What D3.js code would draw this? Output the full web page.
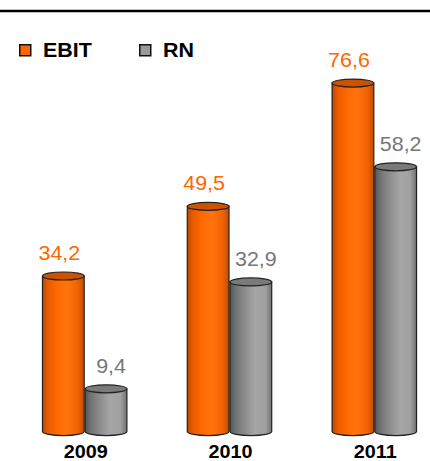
<!DOCTYPE html>
<html><head><meta charset="utf-8">
<script src="https://cdn.jsdelivr.net/npm/d3@7"></script>
<style>html,body{margin:0;padding:0;background:#fff;}svg{display:block;}</style>
</head><body>
<svg id="c" width="430" height="461"></svg>
<script>
const years = ["2009", "2010", "2011"];
const series = ["EBIT", "RN"];
const ebit = [34.2, 49.5, 76.6];
const rn = [9.4, 32.9, 58.2];

const W = 430, H = 461;
const svg = d3.select("#c");
const defs = svg.append("defs");
const FONT = "Liberation Sans, Arial, sans-serif";
const SX = 1.1; // horizontal text stretch seen in the reference

const locale = d3.formatLocale({decimal: ",", thousands: ".", grouping: [3], currency: ["", ""]});
const fmt = locale.format(".1f");

const x = d3.scaleBand().domain(years).range([13, 446]).paddingInner(0.41).paddingOuter(0.2);
const xs = d3.scaleBand().domain(series).range([0, x.bandwidth()]);
const y = d3.scaleLinear().domain([0, 80]).range([431.6, 67.6]);

const style = {
  EBIT: {stops: ["#b84800", "#e85a00", "#ff6a00", "#ff7410", "#f06200", "#c04c00"], top: "#cc5200", label: "#ff6600", dx: -4},
  RN: {stops: ["#555555", "#707070", "#8c8c8c", "#a6a6a6", "#a0a0a0", "#707070"], top: "#7a7a7a", label: "#777777", dx: 5}
};
series.forEach(s => {
  const g = defs.append("linearGradient").attr("id", "g" + s).attr("x1", 0).attr("x2", 1).attr("y1", 0).attr("y2", 0);
  const offs = [0, 0.12, 0.35, 0.6, 0.85, 1];
  style[s].stops.forEach((c, i) => g.append("stop").attr("offset", offs[i]).attr("stop-color", c));
});

// top rule
svg.append("line").attr("x1", 0).attr("x2", W).attr("y1", 11).attr("y2", 11).attr("stroke", "#000").attr("stroke-width", 2.5);

// legend
const leg = svg.append("g");
const legX = {EBIT: 19, RN: 139};
series.forEach(s => {
  leg.append("rect").attr("x", legX[s] + 0.75).attr("y", 44.75).attr("width", 11).attr("height", 11)
    .attr("fill", s === "EBIT" ? "#ff6600" : "#999999").attr("stroke", "#111").attr("stroke-width", 1.5);
  leg.append("text").attr("transform", `translate(${legX[s] + 24},57) scale(${SX},1)`).text(s)
    .attr("font-family", FONT).attr("font-weight", "bold").attr("font-size", 19.5).attr("fill", "#000");
});

const rows = [];
years.forEach((yr, i) => {
  rows.push({year: yr, s: "RN", v: rn[i]});
  rows.push({year: yr, s: "EBIT", v: ebit[i]});
});

const rx = xs.bandwidth() / 2 - 0.5, ry = 4;
const bars = svg.append("g").selectAll("g").data(rows).join("g");
bars.each(function(d) {
  const g = d3.select(this);
  const cx = x(d.year) + xs(d.s) + xs.bandwidth() / 2;
  const y0 = y(0), y1 = y(d.v);
  const path = `M${cx - rx},${y1} L${cx - rx},${y0} A${rx},${ry} 0 0 0 ${cx + rx},${y0} L${cx + rx},${y1} Z`;
  g.append("path").attr("d", path).attr("fill", `url(#g${d.s})`).attr("stroke", "#222").attr("stroke-width", 1.2);
  g.append("ellipse").attr("cx", cx).attr("cy", y1).attr("rx", rx).attr("ry", ry)
    .attr("fill", style[d.s].top).attr("stroke", "#222").attr("stroke-width", 1.2);
  g.append("text").attr("transform", `translate(${cx + style[d.s].dx},${y1 - 16}) scale(${SX},1)`)
    .attr("text-anchor", "middle")
    .attr("font-family", FONT).attr("font-size", 19.5)
    .attr("fill", style[d.s].label).text(fmt(d.v));
});

// x axis labels
svg.append("g").selectAll("text").data(years).join("text")
  .attr("transform", d => `translate(${x(d) + x.bandwidth() / 2 + 1},458) scale(${SX},1)`)
  .attr("text-anchor", "middle")
  .attr("font-family", FONT).attr("font-weight", "bold").attr("font-size", 18)
  .attr("fill", "#000").text(d => d);
</script>
</body></html>
